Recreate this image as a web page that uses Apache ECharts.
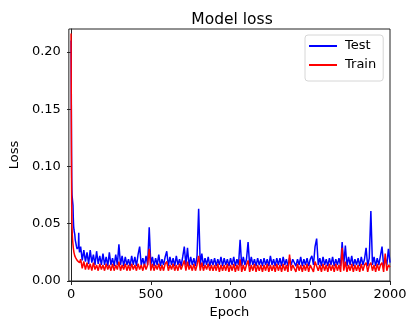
<!DOCTYPE html>
<html>
<head>
<meta charset="utf-8">
<script src="https://cdn.jsdelivr.net/npm/echarts@6/dist/echarts.min.js"></script>
<style>
	html, body { margin: 0; padding: 0; background: #fff; }
	#chart { width: 416px; height: 329px; }
</style>
</head>
<body>
<div id="chart"></div>
<script>
	// early epochs read at finer steps, then one reading every 10 epochs from 60 to 2000
	var earlyEpochs = [0, 1, 2, 3, 4, 5, 6, 8, 10, 12, 14, 16, 18, 20, 23, 26, 30, 34, 38, 42, 46, 48, 50, 53, 56];
	var stepStart = 60, stepEnd = 2000, step = 10;

	var testEarly = [0.210, 0.175, 0.140, 0.110, 0.090, 0.080, 0.075, 0.072, 0.071, 0.066, 0.055, 0.048, 0.045, 0.043, 0.041, 0.036, 0.033, 0.030, 0.028, 0.027, 0.030, 0.042, 0.029, 0.025, 0.027];
	var trainEarly = [0.216, 0.170, 0.120, 0.085, 0.065, 0.054, 0.047, 0.040, 0.035, 0.032, 0.029, 0.027, 0.025, 0.024, 0.022, 0.021, 0.020, 0.019, 0.018, 0.018, 0.017, 0.018, 0.017, 0.016, 0.016];

	var testLoss = [
		0.030, 0.018, 0.027, 0.017,
		0.025, 0.015, 0.027, 0.016, 0.023, 0.014, 0.026, 0.015, 0.022, 0.014,
		0.024, 0.014, 0.021, 0.013, 0.025, 0.014, 0.020, 0.013, 0.023, 0.014,
		0.032, 0.014, 0.022, 0.013, 0.021, 0.014, 0.019, 0.013, 0.022, 0.014,
		0.021, 0.013, 0.023, 0.030, 0.014, 0.020, 0.013, 0.022, 0.014, 0.047,
		0.014, 0.021, 0.013, 0.020, 0.014, 0.023, 0.013, 0.019, 0.014, 0.021,
		0.026, 0.013, 0.021, 0.014, 0.020, 0.013, 0.022, 0.014, 0.019, 0.013,
		0.021, 0.030, 0.014, 0.029, 0.013, 0.021, 0.014, 0.020, 0.013, 0.022,
		0.063, 0.014, 0.024, 0.013, 0.020, 0.014, 0.021, 0.013, 0.019, 0.014,
		0.020, 0.013, 0.019, 0.014, 0.021, 0.013, 0.020, 0.014, 0.019, 0.013,
		0.020, 0.014, 0.021, 0.013, 0.019, 0.014, 0.036, 0.013, 0.021, 0.014,
		0.019, 0.034, 0.013, 0.021, 0.014, 0.019, 0.013, 0.020, 0.014, 0.019,
		0.013, 0.020, 0.014, 0.019, 0.013, 0.022, 0.014, 0.019, 0.013, 0.020,
		0.014, 0.020, 0.013, 0.021, 0.014, 0.019, 0.013, 0.020, 0.014, 0.019,
		0.020, 0.013, 0.019, 0.014, 0.021, 0.013, 0.019, 0.014, 0.020, 0.013,
		0.019, 0.022, 0.014, 0.030, 0.037, 0.014, 0.020, 0.013, 0.021, 0.014,
		0.019, 0.013, 0.020, 0.014, 0.021, 0.013, 0.019, 0.014, 0.020, 0.013,
		0.034, 0.014, 0.031, 0.013, 0.021, 0.014, 0.022, 0.013, 0.019, 0.014,
		0.020, 0.013, 0.021, 0.014, 0.019, 0.029, 0.013, 0.020, 0.061, 0.014,
		0.021, 0.013, 0.020, 0.014, 0.022, 0.030, 0.013, 0.020, 0.014, 0.028,
		0.016
	];

	var trainLoss = [
		0.019, 0.011, 0.017, 0.010,
		0.016, 0.010, 0.015, 0.009, 0.016, 0.010, 0.014, 0.009, 0.015, 0.010,
		0.014, 0.009, 0.015, 0.010, 0.014, 0.009, 0.015, 0.009, 0.014, 0.010,
		0.017, 0.009, 0.014, 0.010, 0.015, 0.009, 0.014, 0.009, 0.015, 0.010,
		0.014, 0.009, 0.015, 0.010, 0.014, 0.009, 0.015, 0.010, 0.014, 0.028,
		0.009, 0.015, 0.009, 0.014, 0.010, 0.015, 0.009, 0.014, 0.009, 0.015,
		0.017, 0.009, 0.014, 0.010, 0.015, 0.009, 0.014, 0.009, 0.015, 0.010,
		0.014, 0.018, 0.009, 0.017, 0.010, 0.014, 0.009, 0.015, 0.009, 0.014,
		0.022, 0.009, 0.016, 0.009, 0.014, 0.010, 0.015, 0.009, 0.014, 0.009,
		0.014, 0.009, 0.015, 0.008, 0.014, 0.009, 0.014, 0.009, 0.015, 0.008,
		0.014, 0.009, 0.015, 0.008, 0.014, 0.009, 0.019, 0.008, 0.014, 0.009,
		0.014, 0.018, 0.008, 0.014, 0.009, 0.015, 0.008, 0.014, 0.009, 0.014,
		0.008, 0.014, 0.009, 0.015, 0.008, 0.014, 0.009, 0.014, 0.008, 0.015,
		0.009, 0.014, 0.008, 0.015, 0.009, 0.014, 0.008, 0.023, 0.009, 0.014,
		0.014, 0.008, 0.015, 0.009, 0.014, 0.008, 0.014, 0.009, 0.015, 0.008,
		0.014, 0.015, 0.008, 0.017, 0.018, 0.009, 0.014, 0.008, 0.015, 0.009,
		0.014, 0.008, 0.015, 0.009, 0.014, 0.008, 0.015, 0.009, 0.014, 0.008,
		0.029, 0.009, 0.017, 0.008, 0.014, 0.009, 0.015, 0.008, 0.014, 0.009,
		0.014, 0.008, 0.015, 0.009, 0.014, 0.016, 0.008, 0.014, 0.016, 0.009,
		0.014, 0.008, 0.015, 0.009, 0.014, 0.016, 0.008, 0.024, 0.009, 0.014,
		0.012
	];

	var xTicks = [0, 500, 1000, 1500, 2000];
	var yTicks = [0, 0.05, 0.10, 0.15, 0.20];

	var font = 'DejaVu Sans';

	function buildEpochs() {
		var list = earlyEpochs.slice();
		for (var e = stepStart; e <= stepEnd; e += step) {
			list.push(e);
		}
		return list;
	}

	function pairUp(epochs, values) {
		var out = [];
		for (var i = 0; i < epochs.length; i++) {
			out.push([epochs[i], values[i]]);
		}
		return out;
	}

	var epochs = buildEpochs();
	var testData = pairUp(epochs, testEarly.concat(testLoss));
	var trainData = pairUp(epochs, trainEarly.concat(trainLoss));

	var myChart = echarts.init(document.getElementById('chart'));

	var option = {
		animation: false,
		backgroundColor: '#fff',
		title: {
			text: 'Model loss',
			left: 227,
			top: 7,
			textAlign: 'center',
			textStyle: { fontFamily: font, fontSize: 15.5, fontWeight: 'normal', color: '#000' }
		},
		legend: {
			orient: 'vertical',
			left: 305,
			top: 35,
			padding: [3, 7, 8, 4],
			itemWidth: 28,
			itemHeight: 2,
			itemGap: 3,
			icon: 'rect',
			textStyle: { fontFamily: font, fontSize: 13, lineHeight: 16, color: '#000', padding: [0, 0, 0, 3] },
			borderColor: '#d6d6d6',
			borderWidth: 1,
			borderRadius: 3,
			backgroundColor: 'rgba(255,255,255,0.8)',
			data: ['Test', 'Train']
		},
		grid: {
			left: 64,
			right: 26,
			top: 29,
			bottom: 48,
			show: true,
			borderColor: '#222',
			borderWidth: 1,
			backgroundColor: 'transparent'
		},
		xAxis: {
			type: 'value',
			min: -14,
			max: 2000,
			name: 'Epoch',
			nameLocation: 'middle',
			nameGap: 25,
			nameTextStyle: { fontFamily: font, fontSize: 13, color: '#000' },
			axisLine: { show: true, onZero: false, lineStyle: { color: '#222', width: 1 } },
			axisTick: { show: true, length: 4, customValues: xTicks, lineStyle: { color: '#222' } },
			axisLabel: {
				customValues: xTicks,
				margin: 7,
				fontFamily: font,
				fontSize: 13,
				color: '#000',
				formatter: function(v) { return String(v); }
			},
			splitLine: { show: false }
		},
		yAxis: {
			type: 'value',
			min: 0,
			max: 0.22,
			name: 'Loss',
			nameLocation: 'middle',
			nameGap: 43,
			nameTextStyle: { fontFamily: font, fontSize: 13, color: '#000' },
			axisLine: { show: true, lineStyle: { color: '#222', width: 1 } },
			axisTick: { show: true, length: 4, customValues: yTicks, lineStyle: { color: '#222' } },
			axisLabel: {
				customValues: yTicks,
				margin: 8,
				fontFamily: font,
				fontSize: 13,
				color: '#000',
				formatter: function(v) { return v.toFixed(2); }
			},
			splitLine: { show: false }
		},
		series: [
			{
				name: 'Test',
				type: 'line',
				data: testData,
				showSymbol: false,
				color: '#0000ff',
				lineStyle: { color: '#0000ff', width: 1.5 },
				z: 2
			},
			{
				name: 'Train',
				type: 'line',
				data: trainData,
				showSymbol: false,
				color: '#ff0000',
				lineStyle: { color: '#ff0000', width: 1.5 },
				z: 3
			}
		]
	};

	myChart.setOption(option);
</script>
</body>
</html>
